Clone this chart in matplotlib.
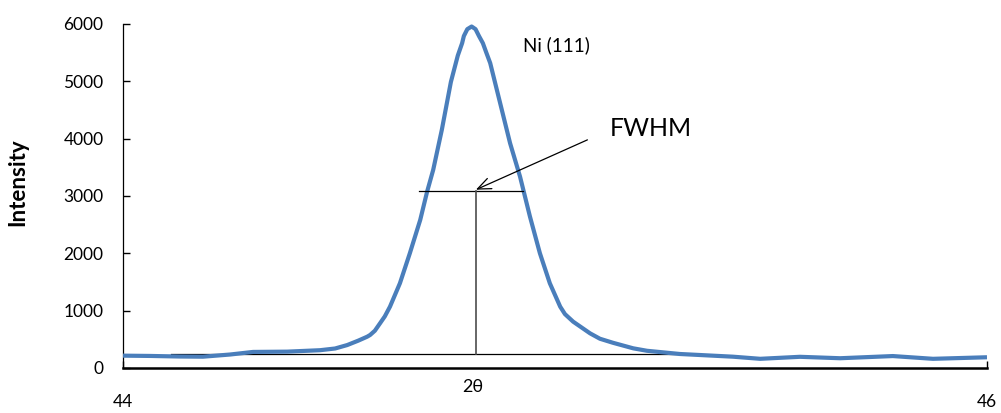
import matplotlib
matplotlib.use("Agg")
import matplotlib.pyplot as plt

plt.rcParams['font.family'] = ['Lato', 'DejaVu Sans']

two_theta = [44.000, 44.063, 44.132, 44.185, 44.248, 44.301, 44.380, 44.456,
             44.491, 44.519, 44.544, 44.565, 44.572, 44.583, 44.595, 44.606,
             44.618, 44.641, 44.664, 44.688, 44.704, 44.718, 44.738, 44.759,
             44.775, 44.785, 44.789, 44.797, 44.807, 44.816, 44.824, 44.833,
             44.841, 44.850, 44.873, 44.896, 44.919, 44.942, 44.965, 44.988,
             45.012, 45.023, 45.042, 45.081, 45.104, 45.134, 45.181, 45.213,
             45.289, 45.412, 45.475, 45.567, 45.660, 45.782, 45.875, 46.000]
intensity = [215, 210, 200, 197, 235, 280, 285, 310,
             340, 400, 475, 545, 576, 650, 780, 900,
             1070, 1478, 2002, 2583, 3077, 3455, 4154, 4990,
             5450, 5666, 5790, 5910, 5956, 5910, 5790, 5666,
             5500, 5318, 4620, 3921, 3339, 2641, 2002, 1478,
             1070, 940, 808, 605, 510, 440, 343, 300,
             244, 197, 160, 195, 170, 208, 160, 187]

# annotation values
half_max = 3080
fwhm_left, fwhm_right = 44.686, 44.927
peak_pos = 44.817
base_level = 240
base_left, base_right = 44.111, 45.289

x_ticks = [44, 46]
y_ticks = [0, 1000, 2000, 3000, 4000, 5000, 6000]

fig = plt.figure(figsize=(10.01, 4.13), dpi=100)
ax = fig.add_axes([0.1229, 0.1090, 0.8631, 0.8329])

ax.plot(two_theta, intensity, color='#4A7EBB', lw=3.0, solid_joinstyle='round',
        solid_capstyle='butt', zorder=3)

# baseline
ax.plot([base_left, base_right], [base_level, base_level], color='black', lw=0.9, zorder=2)
# FWHM horizontal
ax.plot([fwhm_left, fwhm_right], [half_max, half_max], color='black', lw=0.9, zorder=4)
# vertical line at peak
ax.plot([peak_pos, peak_pos], [base_level, half_max], color='#4D4D4D', lw=1.2, zorder=4)

ax.annotate('', xy=(peak_pos, half_max + 30), xytext=(45.075, 3979),
            arrowprops=dict(arrowstyle='->,head_length=0.6,head_width=0.25', color='black', lw=0.9,
                            mutation_scale=16, shrinkA=0, shrinkB=0), zorder=5)

ax.text(45.127, 4171, 'FWHM', fontsize=18, ha='left', va='center')
ax.text(44.926, 5637, 'Ni (111)', fontsize=13.5, ha='left', va='center')

ax.set_xlim(44, 46)
ax.set_ylim(0, 6000)
ax.set_xticks(x_ticks)
ax.set_yticks(y_ticks)
ax.tick_params(axis='both', direction='in', length=5, width=1, labelsize=12.5)
ax.tick_params(axis='x', pad=19)
ax.tick_params(axis='y', pad=14)

for s in ['top', 'right']:
    ax.spines[s].set_visible(False)
ax.spines['left'].set_linewidth(0.9)
ax.spines['bottom'].set_linewidth(1.8)

ax.set_ylabel('Intensity', fontsize=16, fontweight='bold')
ax.yaxis.set_label_coords(-0.110, 0.54)

fig.text(473 / 1001, 1 - 387 / 413, '2θ', fontsize=13, ha='center', va='center')

fig.savefig('out.png', dpi=100)
